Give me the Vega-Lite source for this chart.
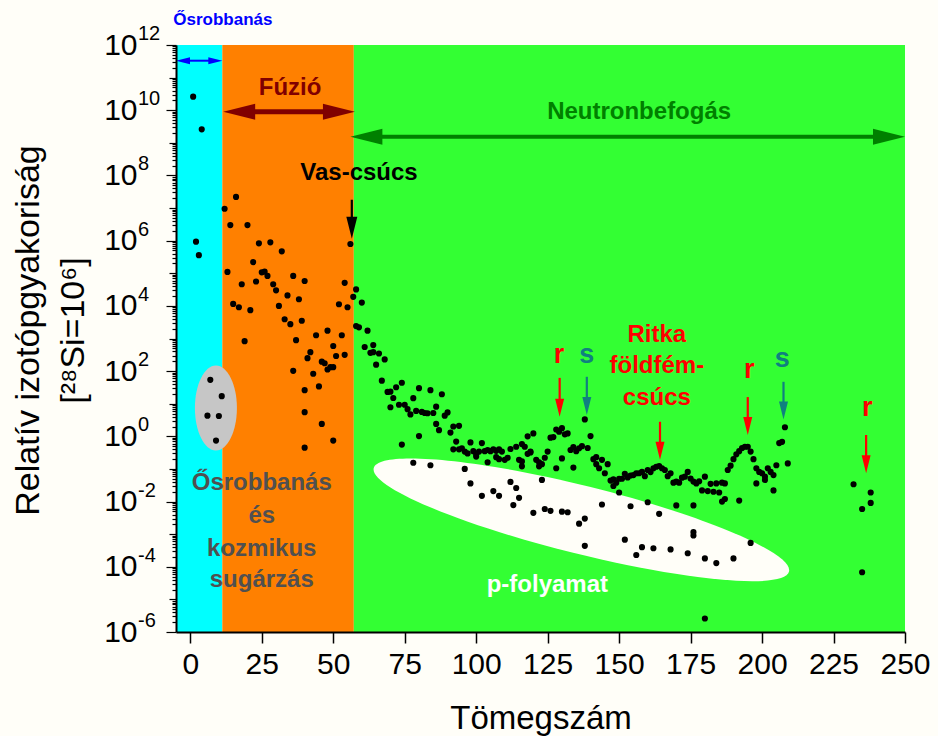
{
  "$schema": "https://vega.github.io/schema/vega-lite/v6.json",
  "width": 729,
  "height": 587,
  "autosize": {"type": "none"},
  "padding": {"left": 176, "top": 45, "right": 33, "bottom": 104},
  "background": "#fffef8",
  "config": {
    "view": {"stroke": null},
    "font": "Liberation Sans",
    "axis": {"labelFont": "Liberation Sans", "titleFont": "Liberation Sans"}
  },
  "datasets": {
    "zones": [
      {"x0": -5, "x1": 11.2, "zone": "Ősrobbanás"},
      {"x0": 11.2, "x1": 57.2, "zone": "Fúzió"},
      {"x0": 57.2, "x1": 250, "zone": "Neutronbefogás"}
    ],
    "primordialRegion": [{"x": 8.96, "y": 7.4}],
    "pRegion": [{"x": 136.8, "y": 0.00275}],
    "hshaft": [
      {"x": -2, "x2": 8, "y": 3.3e11, "k": "bigbang"},
      {"x": 20, "x2": 49, "y": 8.9e9, "k": "fusion"},
      {"x": 63, "x2": 243, "y": 1.55e9, "k": "neutron"}
    ],
    "vshaft": [
      {"x": 56.5, "y": 1.8e7, "y2": 3.5e6, "k": "iron"},
      {"x": 129.2, "y": 62, "y2": 11, "k": "r"},
      {"x": 138.7, "y": 67, "y2": 12.6, "k": "s"},
      {"x": 164.3, "y": 2.8, "y2": 0.52, "k": "ree"},
      {"x": 195.0, "y": 16, "y2": 3.1, "k": "r"},
      {"x": 207.5, "y": 47, "y2": 9.3, "k": "s"},
      {"x": 236.4, "y": 1.1, "y2": 0.21, "k": "r"}
    ],
    "heads": [
      {"x": -5, "y": 3.3e11, "dir": "left", "k": "bigbang"},
      {"x": 11.2, "y": 3.3e11, "dir": "right", "k": "bigbang"},
      {"x": 11.5, "y": 8.9e9, "dir": "left", "k": "fusion"},
      {"x": 57.6, "y": 8.9e9, "dir": "right", "k": "fusion"},
      {"x": 56.0, "y": 1.55e9, "dir": "left", "k": "neutron"},
      {"x": 250, "y": 1.55e9, "dir": "right", "k": "neutron"},
      {"x": 56.5, "y": 1.15e6, "dir": "down", "k": "iron"},
      {"x": 129.2, "y": 4.0, "dir": "down", "k": "r"},
      {"x": 138.7, "y": 4.5, "dir": "down", "k": "s"},
      {"x": 164.3, "y": 0.19, "dir": "down", "k": "ree"},
      {"x": 195.0, "y": 1.1, "dir": "down", "k": "r"},
      {"x": 207.5, "y": 3.3, "dir": "down", "k": "s"},
      {"x": 236.4, "y": 0.074, "dir": "down", "k": "r"}
    ],
    "labels": [
      {"x": 34.9, "y": 4.9e10, "t": "Fúzió", "k": "fusion"},
      {"x": 157, "y": 8.9e9, "t": "Neutronbefogás", "k": "neutron"},
      {"x": 59, "y": 1.2e8, "t": "Vas-csúcs", "k": "iron"},
      {"x": 163.2, "y": 1290, "t": "Ritka", "k": "ree"},
      {"x": 163.2, "y": 145, "t": "földfém-", "k": "ree"},
      {"x": 163.2, "y": 15, "t": "csúcs", "k": "ree"},
      {"x": 25, "y": 0.037, "t": "Ősrobbanás", "k": "primordial"},
      {"x": 25, "y": 0.0036, "t": "és", "k": "primordial"},
      {"x": 25, "y": 0.00035, "t": "kozmikus", "k": "primordial"},
      {"x": 25, "y": 0.00004, "t": "sugárzás", "k": "primordial"},
      {"x": 124.9, "y": 0.000028, "t": "p-folyamat", "k": "p"}
    ],
    "letters": [
      {"x": 129.0, "y": 316, "t": "r", "k": "r"},
      {"x": 138.7, "y": 316, "t": "s", "k": "s"},
      {"x": 195.5, "y": 110, "t": "r", "k": "r"},
      {"x": 207.1, "y": 234, "t": "s", "k": "s"},
      {"x": 236.8, "y": 7.4, "t": "r", "k": "r"}
    ],
    "topLabel": [
      {"x": 11.4, "y": 5.9e12, "t": "Ősrobbanás", "k": "bigbang"}
    ],
    "exponents": [
      {"v": 1e12, "e": "12"}, {"v": 1e10, "e": "10"}, {"v": 1e8, "e": "8"}, {"v": 1e6, "e": "6"},
      {"v": 1e4, "e": "4"}, {"v": 100, "e": "2"}, {"v": 1, "e": "0"}, {"v": 0.01, "e": "-2"},
      {"v": 1e-4, "e": "-4"}, {"v": 1e-6, "e": "-6"}
    ],
    "iso": [
      {"A": 1, "abund": 2.6e10}, {"A": 2, "abund": 9.3e5}, {"A": 3, "abund": 3.6e5}, {"A": 4, "abund": 2.6e9},
      {"A": 6, "abund": 4.3}, {"A": 7, "abund": 54}, {"A": 9, "abund": 0.74}, {"A": 10, "abund": 4.2}, {"A": 11, "abund": 17},
      {"A": 12, "abund": 9.5e6}, {"A": 13, "abund": 1.1e5}, {"A": 14, "abund": 3.0e6}, {"A": 15, "abund": 1.15e4},
      {"A": 16, "abund": 2.2e7}, {"A": 17, "abund": 9.1e3}, {"A": 18, "abund": 4.6e4}, {"A": 19, "abund": 830},
      {"A": 20, "abund": 3.0e6}, {"A": 21, "abund": 7.4e3}, {"A": 22, "abund": 2.2e5}, {"A": 23, "abund": 5.6e4},
      {"A": 24, "abund": 8.3e5}, {"A": 25, "abund": 1.07e5}, {"A": 26, "abund": 1.12e5}, {"A": 27, "abund": 8.3e4},
      {"A": 28, "abund": 8.9e5}, {"A": 29, "abund": 4.6e4}, {"A": 30, "abund": 3.0e4}, {"A": 31, "abund": 1.0e4},
      {"A": 32, "abund": 4.7e5}, {"A": 33, "abund": 3.9e3}, {"A": 34, "abund": 2.1e4}, {"A": 35, "abund": 2750},
      {"A": 36, "abund": 8.3e4}, {"A": 36, "abund": 102}, {"A": 37, "abund": 890}, {"A": 38, "abund": 1.6e4},
      {"A": 39, "abund": 3.5e3}, {"A": 40, "abund": 5.8e4}, {"A": 40, "abund": 26}, {"A": 40, "abund": 5.5},
      {"A": 40, "abund": 0.45}, {"A": 41, "abund": 250}, {"A": 42, "abund": 380}, {"A": 43, "abund": 83},
      {"A": 44, "abund": 1260}, {"A": 45, "abund": 34}, {"A": 46, "abund": 195}, {"A": 46, "abund": 2.4},
      {"A": 47, "abund": 174}, {"A": 48, "abund": 1740}, {"A": 48, "abund": 112}, {"A": 49, "abund": 132},
      {"A": 50, "abund": 590}, {"A": 50, "abund": 132}, {"A": 50, "abund": 0.74}, {"A": 51, "abund": 290},
      {"A": 52, "abund": 1.12e4}, {"A": 53, "abund": 1260}, {"A": 54, "abund": 5.1e4}, {"A": 54, "abund": 316},
      {"A": 55, "abund": 9.1e3}, {"A": 56, "abund": 7.9e5}, {"A": 57, "abund": 1.9e4},
      {"A": 58, "abund": 3.2e4}, {"A": 58, "abund": 2400}, {"A": 59, "abund": 2200}, {"A": 60, "abund": 1.26e4},
      {"A": 61, "abund": 550}, {"A": 62, "abund": 1740}, {"A": 63, "abund": 363}, {"A": 64, "abund": 630},
      {"A": 64, "abund": 380}, {"A": 65, "abund": 158}, {"A": 66, "abund": 347}, {"A": 67, "abund": 51},
      {"A": 68, "abund": 229}, {"A": 69, "abund": 23}, {"A": 70, "abund": 23.4}, {"A": 70, "abund": 7.8},
      {"A": 71, "abund": 15}, {"A": 72, "abund": 32}, {"A": 73, "abund": 9.3}, {"A": 74, "abund": 44},
      {"A": 74, "abund": 0.56}, {"A": 75, "abund": 9.3}, {"A": 76, "abund": 6.8}, {"A": 77, "abund": 4.7},
      {"A": 78, "abund": 14.8}, {"A": 78, "abund": 0.155}, {"A": 79, "abund": 6.0}, {"A": 80, "abund": 30},
      {"A": 80, "abund": 1.02}, {"A": 81, "abund": 5.6}, {"A": 82, "abund": 5.2}, {"A": 83, "abund": 5.1},
      {"A": 84, "abund": 26}, {"A": 84, "abund": 0.13}, {"A": 85, "abund": 5.2}, {"A": 86, "abund": 8.1},
      {"A": 86, "abund": 2.4}, {"A": 87, "abund": 1.55}, {"A": 88, "abund": 19.5}, {"A": 89, "abund": 4.3},
      {"A": 90, "abund": 5.4}, {"A": 91, "abund": 1.3}, {"A": 92, "abund": 2.0}, {"A": 92, "abund": 0.40},
      {"A": 93, "abund": 0.69}, {"A": 94, "abund": 2.1}, {"A": 94, "abund": 0.40}, {"A": 95, "abund": 0.43},
      {"A": 96, "abund": 0.34}, {"A": 96, "abund": 0.10}, {"A": 97, "abund": 0.30}, {"A": 98, "abund": 0.65},
      {"A": 98, "abund": 0.036}, {"A": 99, "abund": 0.35}, {"A": 100, "abund": 0.28}, {"A": 100, "abund": 0.24},
      {"A": 101, "abund": 0.34}, {"A": 102, "abund": 0.62}, {"A": 102, "abund": 0.015}, {"A": 103, "abund": 0.35},
      {"A": 104, "abund": 0.38}, {"A": 104, "abund": 0.16}, {"A": 105, "abund": 0.35}, {"A": 106, "abund": 0.40},
      {"A": 106, "abund": 0.021}, {"A": 107, "abund": 0.36}, {"A": 107, "abund": 0.23}, {"A": 108, "abund": 0.40},
      {"A": 108, "abund": 0.20}, {"A": 108, "abund": 0.015}, {"A": 109, "abund": 0.34}, {"A": 110, "abund": 0.19},
      {"A": 111, "abund": 0.22}, {"A": 112, "abund": 0.41}, {"A": 112, "abund": 0.040}, {"A": 113, "abund": 0.0078},
      {"A": 114, "abund": 0.48}, {"A": 114, "abund": 0.026}, {"A": 115, "abund": 0.19}, {"A": 115, "abund": 0.013},
      {"A": 116, "abund": 0.58}, {"A": 116, "abund": 0.17}, {"A": 116, "abund": 0.12}, {"A": 117, "abund": 0.48},
      {"A": 118, "abund": 1.0}, {"A": 118, "abund": 0.29}, {"A": 119, "abund": 0.34}, {"A": 119, "abund": 0.32},
      {"A": 120, "abund": 1.23}, {"A": 120, "abund": 0.0045}, {"A": 121, "abund": 0.19}, {"A": 122, "abund": 0.16},
      {"A": 122, "abund": 0.12}, {"A": 123, "abund": 0.14}, {"A": 123, "abund": 0.046}, {"A": 124, "abund": 0.22},
      {"A": 124, "abund": 0.0059}, {"A": 125, "abund": 0.34}, {"A": 126, "abund": 0.91}, {"A": 126, "abund": 0.0052},
      {"A": 127, "abund": 0.95}, {"A": 128, "abund": 1.62}, {"A": 128, "abund": 0.105}, {"A": 129, "abund": 1.38},
      {"A": 130, "abund": 1.78}, {"A": 130, "abund": 0.21}, {"A": 130, "abund": 0.0049}, {"A": 131, "abund": 1.15},
      {"A": 132, "abund": 1.23}, {"A": 132, "abund": 0.0047}, {"A": 133, "abund": 0.38}, {"A": 134, "abund": 0.47},
      {"A": 134, "abund": 0.11}, {"A": 135, "abund": 0.35}, {"A": 136, "abund": 0.43}, {"A": 136, "abund": 0.0021},
      {"A": 137, "abund": 0.50}, {"A": 138, "abund": 3.3}, {"A": 138, "abund": 0.0030}, {"A": 138, "abund": 0.00044},
      {"A": 139, "abund": 0.44}, {"A": 140, "abund": 1.02}, {"A": 141, "abund": 0.20}, {"A": 142, "abund": 0.23},
      {"A": 142, "abund": 0.14}, {"A": 143, "abund": 0.105}, {"A": 144, "abund": 0.19}, {"A": 144, "abund": 0.0081},
      {"A": 145, "abund": 0.074}, {"A": 146, "abund": 0.14}, {"A": 147, "abund": 0.044}, {"A": 148, "abund": 0.048},
      {"A": 148, "abund": 0.030}, {"A": 149, "abund": 0.038}, {"A": 150, "abund": 0.050}, {"A": 150, "abund": 0.019},
      {"A": 151, "abund": 0.050}, {"A": 152, "abund": 0.071}, {"A": 152, "abund": 0.00068}, {"A": 153, "abund": 0.055},
      {"A": 154, "abund": 0.063}, {"A": 154, "abund": 0.0072}, {"A": 155, "abund": 0.065}, {"A": 156, "abund": 0.074},
      {"A": 156, "abund": 0.00023}, {"A": 157, "abund": 0.074}, {"A": 158, "abund": 0.081}, {"A": 158, "abund": 0.0004},
      {"A": 159, "abund": 0.06}, {"A": 160, "abund": 0.093}, {"A": 160, "abund": 0.0095}, {"A": 161, "abund": 0.08},
      {"A": 162, "abund": 0.105}, {"A": 162, "abund": 0.00037}, {"A": 163, "abund": 0.117}, {"A": 164, "abund": 0.123},
      {"A": 164, "abund": 0.0042}, {"A": 165, "abund": 0.105}, {"A": 166, "abund": 0.093}, {"A": 167, "abund": 0.06},
      {"A": 168, "abund": 0.074}, {"A": 168, "abund": 0.00034}, {"A": 169, "abund": 0.038}, {"A": 170, "abund": 0.041},
      {"A": 170, "abund": 0.0076}, {"A": 171, "abund": 0.038}, {"A": 172, "abund": 0.054}, {"A": 173, "abund": 0.058},
      {"A": 174, "abund": 0.081}, {"A": 174, "abund": 0.00026}, {"A": 175, "abund": 0.051}, {"A": 176, "abund": 0.041},
      {"A": 176, "abund": 0.0076}, {"A": 176, "abund": 0.00115}, {"A": 176, "abund": 0.00091}, {"A": 177, "abund": 0.036},
      {"A": 178, "abund": 0.042}, {"A": 179, "abund": 0.022}, {"A": 180, "abund": 0.058}, {"A": 180, "abund": 0.00018},
      {"A": 180, "abund": 2.6e-6}, {"A": 181, "abund": 0.021}, {"A": 182, "abund": 0.035}, {"A": 183, "abund": 0.020},
      {"A": 184, "abund": 0.036}, {"A": 184, "abund": 0.00013}, {"A": 185, "abund": 0.019}, {"A": 186, "abund": 0.038},
      {"A": 186, "abund": 0.0100}, {"A": 187, "abund": 0.036}, {"A": 187, "abund": 0.012}, {"A": 188, "abund": 0.093},
      {"A": 189, "abund": 0.126}, {"A": 190, "abund": 0.20}, {"A": 190, "abund": 0.00018}, {"A": 191, "abund": 0.28},
      {"A": 192, "abund": 0.35}, {"A": 192, "abund": 0.0107}, {"A": 193, "abund": 0.44}, {"A": 194, "abund": 0.48},
      {"A": 195, "abund": 0.48}, {"A": 196, "abund": 0.34}, {"A": 196, "abund": 0.00054}, {"A": 197, "abund": 0.20},
      {"A": 198, "abund": 0.105}, {"A": 198, "abund": 0.036}, {"A": 199, "abund": 0.081}, {"A": 200, "abund": 0.074},
      {"A": 201, "abund": 0.058}, {"A": 201, "abund": 0.046}, {"A": 202, "abund": 0.105}, {"A": 203, "abund": 0.081},
      {"A": 204, "abund": 0.065}, {"A": 204, "abund": 0.022}, {"A": 205, "abund": 0.13}, {"A": 206, "abund": 0.62},
      {"A": 207, "abund": 0.68}, {"A": 208, "abund": 1.9}, {"A": 209, "abund": 0.148},
      {"A": 232, "abund": 0.034}, {"A": 235, "abund": 0.0059}, {"A": 235, "abund": 6.8e-5},
      {"A": 238, "abund": 0.019}, {"A": 238, "abund": 0.0091}
    ]
  },
  "layer": [
    {
      "data": {"name": "zones"},
      "mark": {"type": "rect"},
      "encoding": {
        "x": {"field": "x0", "type": "quantitative", "scale": {"domain": [-5, 250], "nice": false, "zero": false}},
        "x2": {"field": "x1"},
        "color": {
          "field": "zone", "type": "nominal", "legend": null,
          "scale": {
            "domain": ["Ősrobbanás", "Fúzió", "Neutronbefogás", "bigbang", "fusion", "neutron", "iron", "r", "s", "ree", "primordial", "p"],
            "range": ["#00ffff", "#ff8000", "#33ff33", "#0000ff", "#800000", "#008000", "#000000", "#ff0000", "#108080", "#ff0000", "#505050", "#ffffff"]
          }
        }
      }
    },
    {
      "data": {"name": "primordialRegion"},
      "mark": {"type": "point", "filled": true, "color": "#c6c6c6", "opacity": 1, "strokeWidth": 0, "size": 7225,
               "shape": "M -0.494 0 A 0.494 1 0 1 0 0.494 0 A 0.494 1 0 1 0 -0.494 0 Z"},
      "encoding": {
        "x": {"field": "x", "type": "quantitative", "scale": {"domain": [-5, 250], "nice": false, "zero": false}},
        "y": {"field": "y", "type": "quantitative", "scale": {"type": "log", "domain": [1e-6, 1e12], "nice": false}}
      }
    },
    {
      "data": {"name": "pRegion"},
      "mark": {"type": "point", "filled": true, "color": "#fffef8", "opacity": 1, "strokeWidth": 0, "size": 183184, "angle": 14,
               "shape": "M -1 0 A 1 0.159 0 1 0 1 0 A 1 0.159 0 1 0 -1 0 Z"},
      "encoding": {
        "x": {"field": "x", "type": "quantitative", "scale": {"domain": [-5, 250], "nice": false, "zero": false}},
        "y": {"field": "y", "type": "quantitative", "scale": {"type": "log", "domain": [1e-6, 1e12], "nice": false}}
      }
    },
    {
      "data": {"name": "hshaft"},
      "transform": [{"filter": "datum.k === 'bigbang'"}],
      "mark": {"type": "rule", "strokeWidth": 2},
      "encoding": {
        "x": {"field": "x", "type": "quantitative", "scale": {"domain": [-5, 250], "nice": false, "zero": false}},
        "x2": {"field": "x2"},
        "y": {"field": "y", "type": "quantitative", "scale": {"type": "log", "domain": [1e-6, 1e12], "nice": false}},
        "color": {
          "field": "k", "type": "nominal", "legend": null,
          "scale": {
            "domain": ["Ősrobbanás", "Fúzió", "Neutronbefogás", "bigbang", "fusion", "neutron", "iron", "r", "s", "ree", "primordial", "p"],
            "range": ["#00ffff", "#ff8000", "#33ff33", "#0000ff", "#800000", "#008000", "#000000", "#ff0000", "#108080", "#ff0000", "#505050", "#ffffff"]
          }
        }
      }
    },
    {
      "data": {"name": "hshaft"},
      "transform": [{"filter": "datum.k === 'fusion'"}],
      "mark": {"type": "rule", "strokeWidth": 5},
      "encoding": {
        "x": {"field": "x", "type": "quantitative", "scale": {"domain": [-5, 250], "nice": false, "zero": false}},
        "x2": {"field": "x2"},
        "y": {"field": "y", "type": "quantitative", "scale": {"type": "log", "domain": [1e-6, 1e12], "nice": false}},
        "color": {
          "field": "k", "type": "nominal", "legend": null,
          "scale": {
            "domain": ["Ősrobbanás", "Fúzió", "Neutronbefogás", "bigbang", "fusion", "neutron", "iron", "r", "s", "ree", "primordial", "p"],
            "range": ["#00ffff", "#ff8000", "#33ff33", "#0000ff", "#800000", "#008000", "#000000", "#ff0000", "#108080", "#ff0000", "#505050", "#ffffff"]
          }
        }
      }
    },
    {
      "data": {"name": "hshaft"},
      "transform": [{"filter": "datum.k === 'neutron'"}],
      "mark": {"type": "rule", "strokeWidth": 4},
      "encoding": {
        "x": {"field": "x", "type": "quantitative", "scale": {"domain": [-5, 250], "nice": false, "zero": false}},
        "x2": {"field": "x2"},
        "y": {"field": "y", "type": "quantitative", "scale": {"type": "log", "domain": [1e-6, 1e12], "nice": false}},
        "color": {
          "field": "k", "type": "nominal", "legend": null,
          "scale": {
            "domain": ["Ősrobbanás", "Fúzió", "Neutronbefogás", "bigbang", "fusion", "neutron", "iron", "r", "s", "ree", "primordial", "p"],
            "range": ["#00ffff", "#ff8000", "#33ff33", "#0000ff", "#800000", "#008000", "#000000", "#ff0000", "#108080", "#ff0000", "#505050", "#ffffff"]
          }
        }
      }
    },
    {
      "data": {"name": "vshaft"},
      "mark": {"type": "rule", "strokeWidth": 2.2},
      "encoding": {
        "x": {"field": "x", "type": "quantitative", "scale": {"domain": [-5, 250], "nice": false, "zero": false}},
        "y": {"field": "y", "type": "quantitative", "scale": {"type": "log", "domain": [1e-6, 1e12], "nice": false}},
        "y2": {"field": "y2"},
        "color": {
          "field": "k", "type": "nominal", "legend": null,
          "scale": {
            "domain": ["Ősrobbanás", "Fúzió", "Neutronbefogás", "bigbang", "fusion", "neutron", "iron", "r", "s", "ree", "primordial", "p"],
            "range": ["#00ffff", "#ff8000", "#33ff33", "#0000ff", "#800000", "#008000", "#000000", "#ff0000", "#108080", "#ff0000", "#505050", "#ffffff"]
          }
        }
      }
    },
    {
      "data": {"name": "heads"},
      "transform": [{"filter": "datum.k === 'bigbang'"}],
      "mark": {"type": "point", "filled": true, "opacity": 1, "strokeWidth": 0, "size": 196},
      "encoding": {
        "x": {"field": "x", "type": "quantitative", "scale": {"domain": [-5, 250], "nice": false, "zero": false}},
        "y": {"field": "y", "type": "quantitative", "scale": {"type": "log", "domain": [1e-6, 1e12], "nice": false}},
        "shape": {
          "field": "dir", "type": "nominal", "legend": null,
          "scale": {"domain": ["left", "right", "down"],
                    "range": ["M 0 0 L 2 -0.5 L 2 0.5 Z", "M 0 0 L -2 -0.5 L -2 0.5 Z", "M 0 0 L -0.5 -2 L 0.5 -2 Z"]}
        },
        "color": {
          "field": "k", "type": "nominal", "legend": null,
          "scale": {
            "domain": ["Ősrobbanás", "Fúzió", "Neutronbefogás", "bigbang", "fusion", "neutron", "iron", "r", "s", "ree", "primordial", "p"],
            "range": ["#00ffff", "#ff8000", "#33ff33", "#0000ff", "#800000", "#008000", "#000000", "#ff0000", "#108080", "#ff0000", "#505050", "#ffffff"]
          }
        }
      }
    },
    {
      "data": {"name": "heads"},
      "transform": [{"filter": "datum.k === 'fusion' || datum.k === 'neutron'"}],
      "mark": {"type": "point", "filled": true, "opacity": 1, "strokeWidth": 0, "size": 1024},
      "encoding": {
        "x": {"field": "x", "type": "quantitative", "scale": {"domain": [-5, 250], "nice": false, "zero": false}},
        "y": {"field": "y", "type": "quantitative", "scale": {"type": "log", "domain": [1e-6, 1e12], "nice": false}},
        "shape": {
          "field": "dir", "type": "nominal", "legend": null,
          "scale": {"domain": ["left", "right", "down"],
                    "range": ["M 0 0 L 2 -0.5 L 2 0.5 Z", "M 0 0 L -2 -0.5 L -2 0.5 Z", "M 0 0 L -0.5 -2 L 0.5 -2 Z"]}
        },
        "color": {
          "field": "k", "type": "nominal", "legend": null,
          "scale": {
            "domain": ["Ősrobbanás", "Fúzió", "Neutronbefogás", "bigbang", "fusion", "neutron", "iron", "r", "s", "ree", "primordial", "p"],
            "range": ["#00ffff", "#ff8000", "#33ff33", "#0000ff", "#800000", "#008000", "#000000", "#ff0000", "#108080", "#ff0000", "#505050", "#ffffff"]
          }
        }
      }
    },
    {
      "data": {"name": "heads"},
      "transform": [{"filter": "datum.k === 'iron'"}],
      "mark": {"type": "point", "filled": true, "opacity": 1, "strokeWidth": 0, "size": 484},
      "encoding": {
        "x": {"field": "x", "type": "quantitative", "scale": {"domain": [-5, 250], "nice": false, "zero": false}},
        "y": {"field": "y", "type": "quantitative", "scale": {"type": "log", "domain": [1e-6, 1e12], "nice": false}},
        "shape": {
          "field": "dir", "type": "nominal", "legend": null,
          "scale": {"domain": ["left", "right", "down"],
                    "range": ["M 0 0 L 2 -0.5 L 2 0.5 Z", "M 0 0 L -2 -0.5 L -2 0.5 Z", "M 0 0 L -0.5 -2 L 0.5 -2 Z"]}
        },
        "color": {
          "field": "k", "type": "nominal", "legend": null,
          "scale": {
            "domain": ["Ősrobbanás", "Fúzió", "Neutronbefogás", "bigbang", "fusion", "neutron", "iron", "r", "s", "ree", "primordial", "p"],
            "range": ["#00ffff", "#ff8000", "#33ff33", "#0000ff", "#800000", "#008000", "#000000", "#ff0000", "#108080", "#ff0000", "#505050", "#ffffff"]
          }
        }
      }
    },
    {
      "data": {"name": "heads"},
      "transform": [{"filter": "datum.k === 'r' || datum.k === 's' || datum.k === 'ree'"}],
      "mark": {"type": "point", "filled": true, "opacity": 1, "strokeWidth": 0, "size": 324},
      "encoding": {
        "x": {"field": "x", "type": "quantitative", "scale": {"domain": [-5, 250], "nice": false, "zero": false}},
        "y": {"field": "y", "type": "quantitative", "scale": {"type": "log", "domain": [1e-6, 1e12], "nice": false}},
        "shape": {
          "field": "dir", "type": "nominal", "legend": null,
          "scale": {"domain": ["left", "right", "down"],
                    "range": ["M 0 0 L 2 -0.5 L 2 0.5 Z", "M 0 0 L -2 -0.5 L -2 0.5 Z", "M 0 0 L -0.5 -2 L 0.5 -2 Z"]}
        },
        "color": {
          "field": "k", "type": "nominal", "legend": null,
          "scale": {
            "domain": ["Ősrobbanás", "Fúzió", "Neutronbefogás", "bigbang", "fusion", "neutron", "iron", "r", "s", "ree", "primordial", "p"],
            "range": ["#00ffff", "#ff8000", "#33ff33", "#0000ff", "#800000", "#008000", "#000000", "#ff0000", "#108080", "#ff0000", "#505050", "#ffffff"]
          }
        }
      }
    },
    {
      "data": {"name": "labels"},
      "mark": {"type": "text", "font": "Liberation Sans", "fontWeight": "bold", "fontSize": 24, "align": "center", "baseline": "middle"},
      "encoding": {
        "x": {"field": "x", "type": "quantitative", "scale": {"domain": [-5, 250], "nice": false, "zero": false}},
        "y": {"field": "y", "type": "quantitative", "scale": {"type": "log", "domain": [1e-6, 1e12], "nice": false}},
        "text": {"field": "t"},
        "color": {
          "field": "k", "type": "nominal", "legend": null,
          "scale": {
            "domain": ["Ősrobbanás", "Fúzió", "Neutronbefogás", "bigbang", "fusion", "neutron", "iron", "r", "s", "ree", "primordial", "p"],
            "range": ["#00ffff", "#ff8000", "#33ff33", "#0000ff", "#800000", "#008000", "#000000", "#ff0000", "#108080", "#ff0000", "#505050", "#ffffff"]
          }
        }
      }
    },
    {
      "data": {"name": "letters"},
      "mark": {"type": "text", "font": "Liberation Sans", "fontWeight": "bold", "fontSize": 27, "align": "center", "baseline": "middle"},
      "encoding": {
        "x": {"field": "x", "type": "quantitative", "scale": {"domain": [-5, 250], "nice": false, "zero": false}},
        "y": {"field": "y", "type": "quantitative", "scale": {"type": "log", "domain": [1e-6, 1e12], "nice": false}},
        "text": {"field": "t"},
        "color": {
          "field": "k", "type": "nominal", "legend": null,
          "scale": {
            "domain": ["Ősrobbanás", "Fúzió", "Neutronbefogás", "bigbang", "fusion", "neutron", "iron", "r", "s", "ree", "primordial", "p"],
            "range": ["#00ffff", "#ff8000", "#33ff33", "#0000ff", "#800000", "#008000", "#000000", "#ff0000", "#108080", "#ff0000", "#505050", "#ffffff"]
          }
        }
      }
    },
    {
      "data": {"name": "topLabel"},
      "mark": {"type": "text", "font": "Liberation Sans", "fontWeight": "bold", "fontSize": 17, "align": "center", "baseline": "middle"},
      "encoding": {
        "x": {"field": "x", "type": "quantitative", "scale": {"domain": [-5, 250], "nice": false, "zero": false}},
        "y": {"field": "y", "type": "quantitative", "scale": {"type": "log", "domain": [1e-6, 1e12], "nice": false}},
        "text": {"field": "t"},
        "color": {
          "field": "k", "type": "nominal", "legend": null,
          "scale": {
            "domain": ["Ősrobbanás", "Fúzió", "Neutronbefogás", "bigbang", "fusion", "neutron", "iron", "r", "s", "ree", "primordial", "p"],
            "range": ["#00ffff", "#ff8000", "#33ff33", "#0000ff", "#800000", "#008000", "#000000", "#ff0000", "#108080", "#ff0000", "#505050", "#ffffff"]
          }
        }
      }
    },
    {
      "data": {"name": "exponents"},
      "mark": {"type": "text", "font": "Liberation Sans", "fontSize": 20, "align": "left", "baseline": "middle", "dx": -38, "dy": -11, "color": "#000000"},
      "encoding": {
        "x": {"datum": -5, "type": "quantitative", "scale": {"domain": [-5, 250], "nice": false, "zero": false}},
        "y": {"field": "v", "type": "quantitative", "scale": {"type": "log", "domain": [1e-6, 1e12], "nice": false}},
        "text": {"field": "e"}
      }
    },
    {
      "data": {"name": "iso"},
      "mark": {"type": "circle", "size": 38, "color": "#000000", "opacity": 1},
      "encoding": {
        "x": {
          "field": "A", "type": "quantitative",
          "scale": {"domain": [-5, 250], "nice": false, "zero": false},
          "axis": {
            "title": "Tömegszám",
            "values": [0, 12.5, 25, 37.5, 50, 62.5, 75, 87.5, 100, 112.5, 125, 137.5, 150, 162.5, 175, 187.5, 200, 212.5, 225, 237.5, 250],
            "labelExpr": "datum.value % 25 === 0 ? datum.label : ''",
            "labelFontSize": 30, "labelColor": "#000000", "labelPadding": 6,
            "labelFlush": false, "labelOverlap": false, "labelBound": false,
            "tickSize": {"condition": {"test": "datum.value % 25 === 0", "value": 11}, "value": 7},
            "tickColor": "#000000", "tickWidth": 1.5,
            "domainColor": "#000000", "domainWidth": 2, "grid": false,
            "titleFontSize": 33, "titleFontWeight": "normal", "titleColor": "#000000",
            "titleBaseline": "alphabetic", "titleX": 364.5, "titleY": 96, "titleAlign": "center",
            "zindex": 1
          }
        },
        "y": {
          "field": "abund", "type": "quantitative",
          "scale": {"type": "log", "domain": [1e-6, 1e12], "nice": false},
          "axis": {
            "title": ["Relatív izotópgyakoriság", "[²⁸Si=10⁶]"],
            "values": [1e-6, 2e-6, 3e-6, 4e-6, 5e-6, 6e-6, 7e-6, 8e-6, 9e-6,
                       1e-5, 2e-5, 3e-5, 4e-5, 5e-5, 6e-5, 7e-5, 8e-5, 9e-5,
                       1e-4, 2e-4, 3e-4, 4e-4, 5e-4, 6e-4, 7e-4, 8e-4, 9e-4,
                       1e-3, 2e-3, 3e-3, 4e-3, 5e-3, 6e-3, 7e-3, 8e-3, 9e-3,
                       1e-2, 2e-2, 3e-2, 4e-2, 5e-2, 6e-2, 7e-2, 8e-2, 9e-2,
                       1e-1, 2e-1, 3e-1, 4e-1, 5e-1, 6e-1, 7e-1, 8e-1, 9e-1,
                       1, 2, 3, 4, 5, 6, 7, 8, 9,
                       10, 20, 30, 40, 50, 60, 70, 80, 90,
                       100, 200, 300, 400, 500, 600, 700, 800, 900,
                       1e3, 2e3, 3e3, 4e3, 5e3, 6e3, 7e3, 8e3, 9e3,
                       1e4, 2e4, 3e4, 4e4, 5e4, 6e4, 7e4, 8e4, 9e4,
                       1e5, 2e5, 3e5, 4e5, 5e5, 6e5, 7e5, 8e5, 9e5,
                       1e6, 2e6, 3e6, 4e6, 5e6, 6e6, 7e6, 8e6, 9e6,
                       1e7, 2e7, 3e7, 4e7, 5e7, 6e7, 7e7, 8e7, 9e7,
                       1e8, 2e8, 3e8, 4e8, 5e8, 6e8, 7e8, 8e8, 9e8,
                       1e9, 2e9, 3e9, 4e9, 5e9, 6e9, 7e9, 8e9, 9e9,
                       1e10, 2e10, 3e10, 4e10, 5e10, 6e10, 7e10, 8e10, 9e10,
                       1e11, 2e11, 3e11, 4e11, 5e11, 6e11, 7e11, 8e11, 9e11,
                       1e12],
            "labelExpr": "indexof([1e-6,1e-4,1e-2,1,1e2,1e4,1e6,1e8,1e10,1e12], datum.value) < 0 ? '' : '10'",
            "labelFontSize": 30, "labelColor": "#000000", "labelPadding": 29,
            "labelOverlap": false, "labelBound": false, "labelFlush": false,
            "tickSize": {
              "condition": [
                {"test": "indexof([1e-6,1e-4,1e-2,1,1e2,1e4,1e6,1e8,1e10,1e12], datum.value) >= 0", "value": 10},
                {"test": "indexof([1e-5,1e-3,1e-1,10,1e3,1e5,1e7,1e9,1e11], datum.value) >= 0", "value": 7}
              ],
              "value": 4
            },
            "tickColor": "#000000", "tickWidth": 1.2,
            "domainColor": "#000000", "domainWidth": 2, "grid": false,
            "titleFontSize": 34, "titleFontWeight": "normal", "titleColor": "#000000",
            "titleAngle": -90, "titleBaseline": "top", "titleAlign": "center",
            "titleX": -165, "titleY": 285, "titleLineHeight": 45,
            "zindex": 1
          }
        }
      }
    }
  ]
}
